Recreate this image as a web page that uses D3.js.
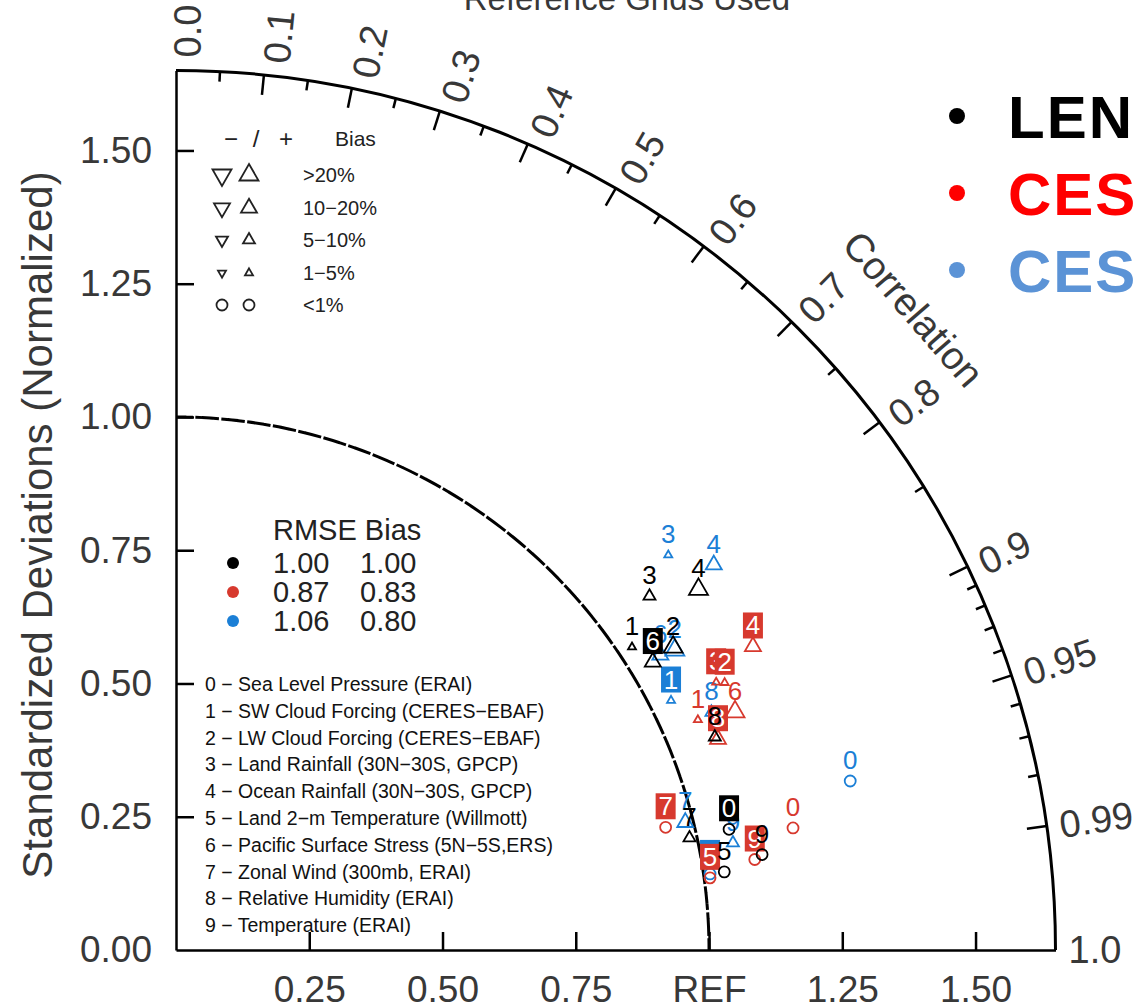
<!DOCTYPE html>
<html>
<head>
<meta charset="utf-8">
<script src="https://cdn.jsdelivr.net/npm/d3@7"></script>
<style>
  body { margin: 0; background: #fff; }
  text { font-family: 'Liberation Sans', Arial, sans-serif; }
</style>
</head>
<body>
<div id="chart"></div>
<script>
// ---- data ----
const caseNames = ['LEN', 'CES', 'CES']
const caseColors = ['#000000', '#d7392e', '#1b7fd6']
const legendColors = ['#000000', '#ff0000', '#5b93d6']

const rmseScores = ['1.00', '0.87', '1.06']
const biasScores = ['1.00', '0.83', '0.80']

const varNames = [
  'Sea Level Pressure (ERAI)',
  'SW Cloud Forcing (CERES\u2212EBAF)',
  'LW Cloud Forcing (CERES\u2212EBAF)',
  'Land Rainfall (30N\u221230S, GPCP)',
  'Ocean Rainfall (30N\u221230S, GPCP)',
  'Land 2\u2212m Temperature (Willmott)',
  'Pacific Surface Stress (5N\u22125S,ERS)',
  'Zonal Wind (300mb, ERAI)',
  'Relative Humidity (ERAI)',
  'Temperature (ERAI)'
]

// normalized standard deviation, correlation, bias (%) and boxed label flag, per variable 0..9
const stdLens  = [1.062, 1.027, 1.092, 1.109, 1.191, 1.039, 1.045, 0.986, 1.087, 1.114]
const corrLens = [0.977, 0.833, 0.854, 0.801, 0.823, 0.990, 0.856, 0.977, 0.930, 0.987]
const biasLens = [0.5, 3, 25, 7, 25, 0.5, 15, 7, 8, 0.5]
const boxLens  = [1, 0, 0, 0, 0, 0, 1, 0, 0, 0]

const stdCes1  = [1.180, 1.070, 1.145, 1.131, 1.223, 1.011, 1.140, 0.947, 1.091, 1.099]
const corrCes1 = [0.981, 0.915, 0.899, 0.896, 0.885, 0.991, 0.920, 0.970, 0.932, 0.988]
const biasCes1 = [0.5, 3, 3, 3, 15, 0.5, 25, 0.5, 12, 0.5]
const boxCes1  = [0, 0, 1, 1, 1, 1, 0, 1, 1, 1]

const stdCes2  = [1.304, 1.040, 1.092, 1.184, 1.241, 1.012, 1.064, 0.985, 1.099, 1.064]
const corrCes2 = [0.970, 0.893, 0.857, 0.780, 0.813, 0.990, 0.854, 0.970, 0.914, 0.982]
const biasCes2 = [0.5, 3, 22, 3, 15, 0.5, 12, 12, 7, 7]
const boxCes2  = [0, 1, 0, 0, 0, 1, 0, 0, 0, 0]

const stdTicks = [0, 0.25, 0.5, 0.75, 1.0, 1.25, 1.5]
const corrMajor = [0.1, 0.2, 0.3, 0.4, 0.5, 0.6, 0.7, 0.8, 0.9, 0.95, 0.99]
const corrMinor = [0.05, 0.15, 0.25, 0.35, 0.45, 0.55, 0.65, 0.75, 0.85, 0.91, 0.92, 0.93, 0.94, 0.96, 0.97, 0.98]
const corrLabels = [0.0, 0.1, 0.2, 0.3, 0.4, 0.5, 0.6, 0.7, 0.8, 0.9, 0.95, 0.99, 1.0]

const biasBinLabels = ['>20%', '10\u221220%', '5\u221210%', '1\u22125%', '<1%']
const biasBinMin = [20, 10, 5, 1, 0]

// ---- layout ----
const width = 1138
const height = 1008
const origin = { x: 176, y: 950 }
const maxStd = 1.65
const axisGrey = '#383838'

const svg = d3.select('#chart').append('svg')
  .attr('width', width).attr('height', height)

const rScale = d3.scaleLinear().domain([0, maxStd]).range([0, 879.5])
const yScale = d3.scaleLinear().domain([0, maxStd]).range([0, -879.5])
const R = rScale(maxStd)

const g = svg.append('g').attr('transform', 'translate(' + origin.x + ',' + origin.y + ')')

function polar(s, c) {
  const a = Math.acos(c)
  return [rScale(s) * Math.cos(a), -rScale(s) * Math.sin(a)]
}

// outer arc
const arc = d3.arc()
g.append('path')
  .attr('d', arc({ innerRadius: R, outerRadius: R, startAngle: 0, endAngle: Math.PI / 2 }))
  .attr('fill', 'none').attr('stroke', '#000').attr('stroke-width', 3)

// reference arc (dashed)
g.append('path')
  .attr('d', arc({ innerRadius: rScale(1), outerRadius: rScale(1), startAngle: 0, endAngle: Math.PI / 2 }))
  .attr('fill', 'none').attr('stroke', '#000').attr('stroke-width', 3)
  .attr('stroke-dasharray', '17,9')

// axes
const xAxis = d3.axisBottom(rScale)
  .tickValues(stdTicks.slice(1))
  .tickFormat(d => d === 1 ? 'REF' : d3.format('.2f')(d))
  .tickSize(-18).tickSizeOuter(0).tickPadding(26)
const xg = g.append('g').call(xAxis)

const yAxis = d3.axisLeft(yScale)
  .tickValues(stdTicks)
  .tickFormat(d3.format('.2f'))
  .tickSize(-18).tickSizeOuter(0).tickPadding(24)
const yg = g.append('g').call(yAxis)

;[xg, yg].forEach(ax => {
  ax.select('.domain').attr('stroke', '#000').attr('stroke-width', 2.5)
  ax.selectAll('.tick line').attr('stroke', '#000').attr('stroke-width', 2.5)
  ax.selectAll('.tick text').attr('font-size', 37).attr('fill', axisGrey)
    .attr('font-family', "'Liberation Sans', Arial, sans-serif")
})
yg.selectAll('.tick').filter(d => d === 0).select('line').remove()

// correlation ticks
corrMajor.forEach(c => {
  const a = Math.acos(c)
  g.append('line')
    .attr('x1', R * Math.cos(a)).attr('y1', -R * Math.sin(a))
    .attr('x2', (R - 20) * Math.cos(a)).attr('y2', -(R - 20) * Math.sin(a))
    .attr('stroke', '#000').attr('stroke-width', 2.5)
})
corrMinor.forEach(c => {
  const a = Math.acos(c)
  g.append('line')
    .attr('x1', R * Math.cos(a)).attr('y1', -R * Math.sin(a))
    .attr('x2', (R - 10) * Math.cos(a)).attr('y2', -(R - 10) * Math.sin(a))
    .attr('stroke', '#000').attr('stroke-width', 2.5)
})

// correlation labels
corrLabels.forEach(c => {
  const a = Math.acos(c)
  const deg = a * 180 / Math.PI
  const rr = R + 13
  g.append('text')
    .attr('transform', 'translate(' + rr * Math.cos(a) + ',' + (-rr * Math.sin(a)) + ') rotate(' + (-deg) + ')')
    .attr('y', 12 * deg / 90)
    .attr('dominant-baseline', 'central')
    .attr('font-size', 38).attr('fill', axisGrey)
    .text(c === 0 || c === 1 ? c.toFixed(1) : String(c))
})

// correlation title
const titleAngle = 41 * Math.PI / 180
g.append('text')
  .attr('transform', 'translate(' + 977 * Math.cos(titleAngle) + ',' + (-977 * Math.sin(titleAngle)) + ') rotate(' + (90 - 41) + ')')
  .attr('text-anchor', 'middle').attr('dominant-baseline', 'central')
  .attr('font-size', 39).attr('fill', axisGrey)
  .text('Correlation')

// top title (cut off by the frame)
svg.append('text')
  .attr('x', 627).attr('y', 10)
  .attr('text-anchor', 'middle')
  .attr('font-size', 33).attr('fill', axisGrey)
  .text('Reference Grids Used')

// y axis title
svg.append('text')
  .attr('transform', 'translate(37,525) rotate(-90)')
  .attr('text-anchor', 'middle').attr('dominant-baseline', 'central')
  .attr('font-size', 42).attr('fill', axisGrey)
  .text('Standardized Deviations (Normalized)')

// ---- markers ----
function biasBin(b) {
  return biasBinMin.findIndex(m => Math.abs(b) >= m)
}
const triWidths = [19, 16, 12, 8]
function markerPath(bin) {
  const w = triWidths[bin]
  const size = Math.sqrt(3) / 4 * w * w
  return d3.symbol(d3.symbolTriangle, size)()
}

function drawMarker(sel, x, y, bias, color) {
  const bin = biasBin(bias)
  if (bin === 4) {
    sel.append('circle').attr('cx', x).attr('cy', y).attr('r', 5.5)
      .attr('fill', 'none').attr('stroke', color).attr('stroke-width', 1.8)
  } else {
    sel.append('path').attr('d', markerPath(bin))
      .attr('transform', 'translate(' + x + ',' + y + ')' + (bias < 0 ? ' rotate(180)' : ''))
      .attr('fill', 'none').attr('stroke', color).attr('stroke-width', 1.8)
  }
}

const cases = [
  { std: stdLens, corr: corrLens, bias: biasLens, box: boxLens, color: caseColors[0] },
  { std: stdCes1, corr: corrCes1, bias: biasCes1, box: boxCes1, color: caseColors[1] },
  { std: stdCes2, corr: corrCes2, bias: biasCes2, box: boxCes2, color: caseColors[2] }
]

// blue drawn first, black last (as in the picture's overlaps)
cases.slice().reverse().forEach(cs => {
  const layer = g.append('g')
  d3.range(cs.std.length - 1, -1, -1).forEach(i => {
    const [x, y] = polar(cs.std[i], cs.corr[i])
    drawMarker(layer, x, y, cs.bias[i], cs.color)
    const ly = y - 21
    if (cs.box[i]) {
      layer.append('rect')
        .attr('x', x - 10).attr('y', ly - 13).attr('width', 20).attr('height', 26)
        .attr('fill', cs.color)
    }
    layer.append('text')
      .attr('x', x).attr('y', ly)
      .attr('text-anchor', 'middle').attr('dominant-baseline', 'central')
      .attr('font-size', 26)
      .attr('fill', cs.box[i] ? '#fff' : cs.color)
      .text(i)
  })
})

// ---- bias legend ----
const bl = svg.append('g')
;[['\u2212', 231], ['/', 256], ['+', 286]].forEach(([t, x]) => {
  bl.append('text').attr('x', x).attr('y', 138).attr('text-anchor', 'middle')
    .attr('dominant-baseline', 'central').attr('font-size', 24).attr('fill', '#222').text(t)
})
bl.append('text').attr('x', 335).attr('y', 138).attr('dominant-baseline', 'central')
  .attr('font-size', 21).attr('fill', '#222').text('Bias')
const legendRowY = [175, 208, 240, 273, 305]
biasBinLabels.forEach((lab, i) => {
  const y = legendRowY[i]
  if (i === 4) {
    ;[222, 249].forEach(x => bl.append('circle').attr('cx', x).attr('cy', y).attr('r', 5.5)
      .attr('fill', 'none').attr('stroke', '#222').attr('stroke-width', 1.8))
  } else {
    bl.append('path').attr('d', markerPath(i)).attr('transform', 'translate(222,' + y + ') rotate(180)')
      .attr('fill', 'none').attr('stroke', '#222').attr('stroke-width', 1.8)
    bl.append('path').attr('d', markerPath(i)).attr('transform', 'translate(249,' + y + ')')
      .attr('fill', 'none').attr('stroke', '#222').attr('stroke-width', 1.8)
  }
  bl.append('text').attr('x', 303).attr('y', y).attr('dominant-baseline', 'central')
    .attr('font-size', 20).attr('fill', '#222').text(lab)
})

// ---- RMSE / Bias score legend ----
const sl = svg.append('g')
sl.append('text').attr('x', 273).attr('y', 530).attr('dominant-baseline', 'central')
  .attr('font-size', 29).attr('fill', '#222').text('RMSE Bias')
rmseScores.forEach((v, i) => {
  const y = 563 + i * 29
  sl.append('circle').attr('cx', 233).attr('cy', y).attr('r', 6).attr('fill', caseColors[i])
  sl.append('text').attr('x', 273).attr('y', y).attr('dominant-baseline', 'central')
    .attr('font-size', 29).attr('fill', '#222').text(v)
  sl.append('text').attr('x', 360).attr('y', y).attr('dominant-baseline', 'central')
    .attr('font-size', 29).attr('fill', '#222').text(biasScores[i])
})

// ---- variable list ----
varNames.forEach((name, i) => {
  svg.append('text')
    .attr('x', 205).attr('y', 684 + i * 26.8)
    .attr('dominant-baseline', 'central')
    .attr('font-size', 19.5).attr('fill', '#111')
    .text(i + ' \u2212 ' + name)
})

// ---- case legend (top right) ----
caseNames.forEach((name, i) => {
  const y = 116 + i * 77
  svg.append('circle').attr('cx', 957).attr('cy', y).attr('r', 8).attr('fill', legendColors[i])
  svg.append('text').attr('x', 1008).attr('y', y + 22)
    .attr('font-family', "Lato, 'Open Sans', sans-serif")
    .attr('font-weight', 900).attr('font-size', 60).attr('letter-spacing', 2)
    .attr('fill', legendColors[i]).text(name)
})
</script>
</body>
</html>
